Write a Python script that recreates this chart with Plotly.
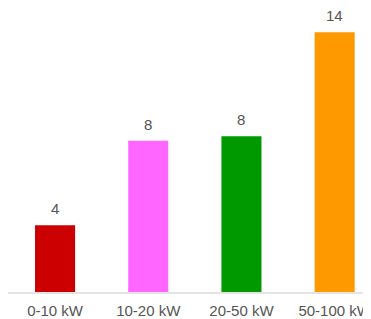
import plotly.graph_objects as go

categories = ["0-10 kW", "10-20 kW", "20-50 kW", "50-100 kW"]
values = [3.6, 8.15, 8.4, 14.0]
colors = ["#cc0000", "#ff66ff", "#009900", "#ff9900"]

FONT = "Liberation Sans, Arial, sans-serif"

fig = go.Figure(go.Bar(
    x=categories,
    y=values,
    marker=dict(color=colors, line=dict(width=0)),
    width=0.43,
    hoverinfo="x+y",
))

for c, v in zip(categories, values):
    fig.add_annotation(
        x=c, y=v, text=f"{v:.0f}", showarrow=False,
        yanchor="bottom", yshift=6,
        font=dict(family=FONT, size=15, color="#555555"),
    )

# page body has an 8px margin: figure sized to fit the 371x319 window
fig.update_layout(
    width=363, height=311,
    margin=dict(l=0, r=0, t=0, b=27, autoexpand=False),
    paper_bgcolor="white", plot_bgcolor="white",
    showlegend=False,
    xaxis=dict(
        range=[-0.505, 3.39],
        showline=True, linecolor="#e3e3e3", linewidth=2,
        showgrid=False, zeroline=False,
        ticks="outside", ticklen=4, tickcolor="rgba(0,0,0,0)",
        tickfont=dict(family=FONT, size=15, color="#555555"),
        automargin=False,
    ),
    yaxis=dict(
        range=[0, 15.31], visible=False, showgrid=False, zeroline=False,
    ),
)

fig.write_html("out.html")
